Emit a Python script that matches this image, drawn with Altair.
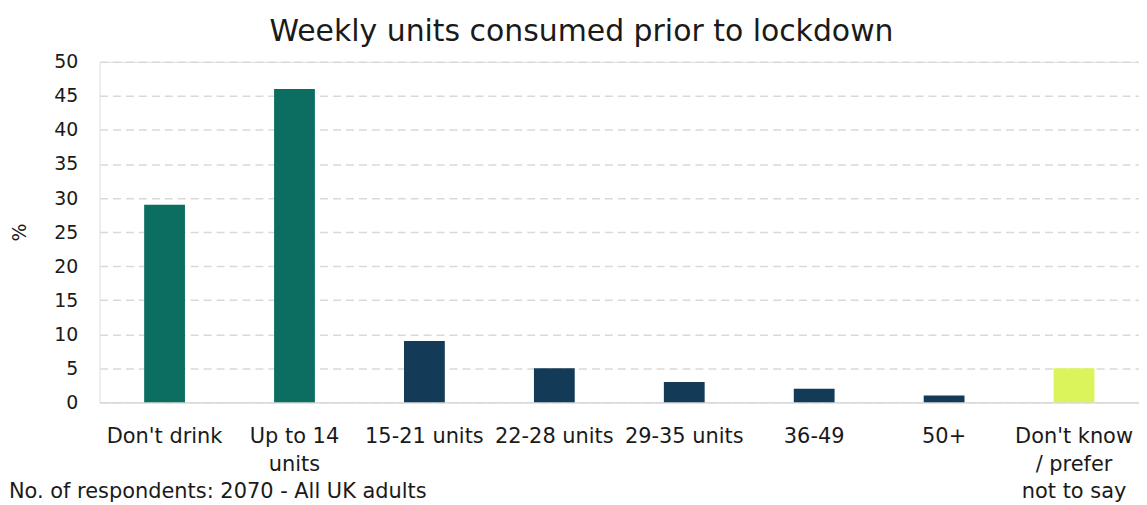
import json
import altair as alt
import pandas as pd

categories = ["Don't drink", "Up to 14 units", "15-21 units", "22-28 units",
              "29-35 units", "36-49", "50+", "Don't know / prefer not to say"]
label_lines = [["Don't drink"], ["Up to 14", "units"], ["15-21 units"], ["22-28 units"],
               ["29-35 units"], ["36-49"], ["50+"], ["Don't know", "/ prefer", "not to say"]]
values = [29, 46, 9, 5, 3, 2, 1, 5]
groups = ["none", "low", "high", "high", "high", "high", "high", "unknown"]
group_names = ["none", "low", "high", "unknown"]
group_colors = ["#0b6e60", "#0b6e60", "#133b57", "#dcf45b"]
y_ticks = [0, 5, 10, 15, 20, 25, 30, 35, 40, 45, 50]

df = pd.DataFrame({"cat": categories, "val": values, "grp": groups})

# multi-line label expression
expr = "datum.label"
for c, lines in zip(categories, label_lines):
    if len(lines) > 1:
        expr = f"datum.label == {json.dumps(c)} ? {json.dumps(lines)} : ({expr})"

FONT = "DejaVu Sans"

bars = alt.Chart(df).mark_bar().encode(
    x=alt.X("cat:N", sort=categories,
            scale=alt.Scale(paddingInner=0.686, paddingOuter=0.343),
            axis=alt.Axis(title=None, labelAngle=0, labelFontSize=21, labelFont=FONT,
                          labelColor="#1a1a1a", labelExpr=expr, labelLineHeight=28,
                          labelPadding=23, ticks=False, domain=True,
                          domainColor="#d9d9d9", domainWidth=1.5, grid=False,
                          labelBaseline="top", labelOverlap=False, labelBound=False)),
    y=alt.Y("val:Q", scale=alt.Scale(domain=[0, 50], nice=False),
            axis=alt.Axis(title="%", values=y_ticks, labelFontSize=19, labelFont=FONT,
                          labelColor="#1a1a1a", labelPadding=22, ticks=False, domain=False,
                          grid=True, gridColor="#d9d9d9", gridDash=[8, 5], gridWidth=1.5,
                          titleFont=FONT, titleFontSize=19, titleFontWeight="normal",
                          titleColor="#1a1a1a", titleX=-80, titleY=171, titleAngle=270,
                          titleAlign="center", titleBaseline="middle")),
    color=alt.Color("grp:N", scale=alt.Scale(domain=group_names, range=group_colors), legend=None),
)

footer = alt.Chart(pd.DataFrame({"t": ["No. of respondents: 2070 - All UK adults"]})).mark_text(
    align="left", baseline="middle", fontSize=21, font=FONT, color="#1a1a1a"
).encode(x=alt.value(-91), y=alt.value(432), text="t:N")

chart = alt.layer(bars, footer).properties(
    width=1044, height=342,
    autosize=alt.AutoSizeParams(type="none"),
    padding={"left": 92, "top": 53, "right": 0, "bottom": 102},
    title=alt.TitleParams("Weekly units consumed prior to lockdown", font=FONT, fontSize=30,
                          fontWeight="normal", color="#1a1a1a", anchor="middle", offset=6,
                          dx=-38),
).configure_view(stroke=None).configure(background="white")

chart.save("out.html", embed_options={"renderer": "svg", "actions": False})
